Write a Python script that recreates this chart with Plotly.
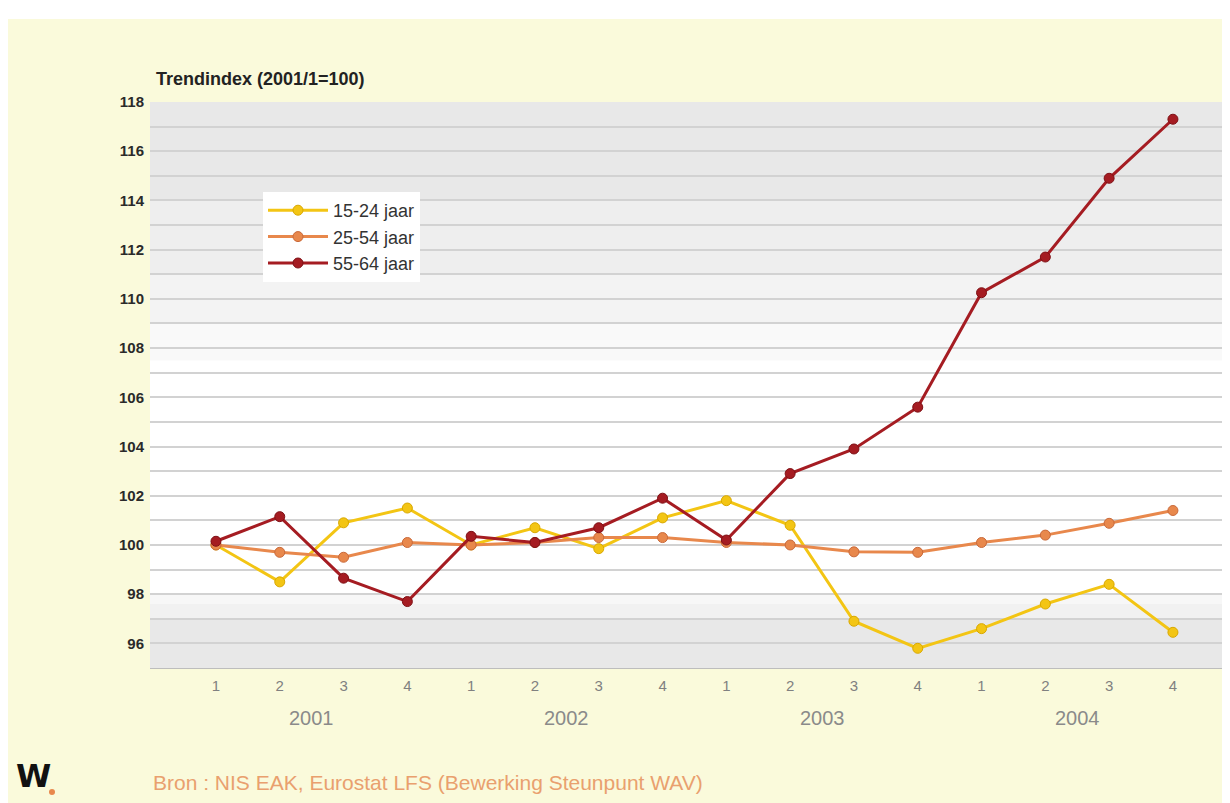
import plotly.graph_objects as go

years = ["2001", "2002", "2003", "2004"]
quarters = ["1", "2", "3", "4"]
series_names = ["15-24 jaar", "25-54 jaar", "55-64 jaar"]
v_15_24 = [100.0, 98.5, 100.9, 101.5, 100.0, 100.7, 99.85, 101.1, 101.8, 100.8, 96.9, 95.8, 96.6, 97.6, 98.4, 96.45]
v_25_54 = [100.0, 99.7, 99.5, 100.1, 100.0, 100.1, 100.3, 100.3, 100.1, 100.0, 99.72, 99.7, 100.1, 100.4, 100.88, 101.4]
v_55_64 = [100.15, 101.15, 98.65, 97.7, 100.35, 100.1, 100.7, 101.9, 100.2, 102.9, 103.9, 105.6, 110.25, 111.7, 114.9, 117.3]
colors = ["#F3C514", "#E8884C", "#A51C22"]
outlines = ["#D9A800", "#C9693A", "#7E1015"]

labels = [q for y in years for q in quarters]
xs = list(range(len(labels)))

fig = go.Figure()
for name, vals, c, oc in zip(series_names, [v_15_24, v_25_54, v_55_64], colors, outlines):
    fig.add_trace(go.Scatter(
        x=xs, y=vals, name=name, mode="lines+markers",
        line=dict(color=c, width=3),
        marker=dict(color=c, size=10, line=dict(color=oc, width=1)),
    ))

# screen-pixel helpers (page has an 8px body margin)
PT, PB, PL, PW = 102, 668, 150, 1088
def py(Y):
    return (PB - Y) / (PB - PT)
def px(X):
    return (X - PL) / PW

bands = [(114, 118, "#e8e8e8"), (111, 114, "#eeeeee"), (109, 111, "#f3f3f3"),
         (107.5, 109, "#f9f9f9"), (97.6, 98.0, "#f7f7f7"), (97, 97.6, "#f1f1f1"), (95, 97, "#e8e8e8")]
shapes = [dict(type="rect", xref="paper", yref="paper", x0=px(0), x1=px(1240), y0=py(19), y1=py(0),
               fillcolor="#ffffff", line=dict(width=0), layer="below")]
for y0, y1, col in bands:
    shapes.append(dict(type="rect", xref="paper", yref="y", x0=0, x1=1, y0=y0, y1=y1,
                       fillcolor=col, line=dict(width=0), layer="below"))
# orange dot of the logo
shapes.append(dict(type="circle", xref="paper", yref="paper", x0=px(49), x1=px(55), y0=py(795), y1=py(789),
                   fillcolor="#E8884C", line=dict(width=0)))

fig.update_layout(
    width=1230, height=803,
    margin=dict(l=142, r=0, t=94, b=143),
    paper_bgcolor="#FAFADB", plot_bgcolor="#ffffff",
    font=dict(family="Liberation Sans, Arial", color="#333333"),
    shapes=shapes,
    showlegend=True,
    legend=dict(x=px(263), y=py(192), xanchor="left", yanchor="top", bgcolor="#ffffff",
                font=dict(size=18, color="#333333"), borderwidth=0, tracegroupgap=0,
                itemwidth=60),
)
fig.update_xaxes(
    range=[-1.034, 16.02], tickmode="array", tickvals=xs, ticktext=labels,
    showgrid=False, zeroline=False, showline=True, linecolor="#bdbdbd", linewidth=1,
    tickfont=dict(size=15, color="#808080"), ticks="", ticklabelstandoff=4,
)
fig.update_yaxes(
    range=[95, 118], tick0=96, dtick=2, showgrid=True, gridcolor="#d2d2d2", gridwidth=1.5,
    minor=dict(dtick=1, showgrid=True, gridcolor="#d2d2d2", gridwidth=1.5),
    zeroline=False, showline=False,
    tickfont=dict(size=15, color="#2a2a2a", weight="bold"),
    ticks="", ticklabelstandoff=5,
)

annotations = [
    dict(text="<b>Trendindex (2001/1=100)</b>", xref="paper", yref="paper", x=px(154), y=py(79),
         xanchor="left", yanchor="middle", showarrow=False, font=dict(size=18, color="#222222")),
    dict(text="Bron : NIS EAK, Eurostat LFS (Bewerking Steunpunt WAV)", xref="paper", yref="paper",
         x=px(151), y=py(782), xanchor="left", yanchor="middle", showarrow=False,
         font=dict(size=21, color="#E9A06E")),
    dict(text="<b>W</b>", xref="paper", yref="paper", x=px(14), y=py(776), xanchor="left",
         yanchor="middle", showarrow=False, font=dict(size=32, color="#111111", family="DejaVu Sans")),
]
for i, y in enumerate(years):
    annotations.append(dict(text=y, xref="x", yref="paper", x=4 * i + 1.5, y=py(718),
                            xanchor="center", yanchor="middle", showarrow=False,
                            font=dict(size=20, color="#8a8a8a")))
fig.update_layout(annotations=annotations)

fig.write_html("out.html")
